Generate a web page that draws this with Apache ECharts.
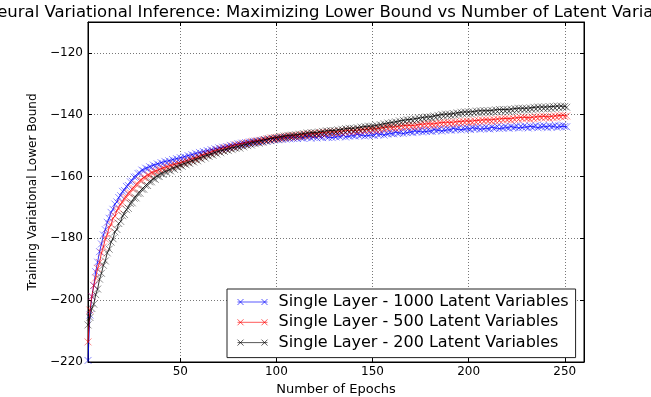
<!DOCTYPE html>
<html>
<head>
<meta charset="utf-8">
<title>Neural Variational Inference</title>
<script src="https://cdn.jsdelivr.net/npm/echarts@6/dist/echarts.min.js"></script>
<style>
    html, body { margin: 0; padding: 0; background: #fff; }
    #container { width: 651px; height: 397px; }
</style>
</head>
<body>
<div id="container"></div>
<script>
// epochs on the x axis
var epochs = [
    2, 3, 4, 5, 6, 7, 8, 9, 10, 11, 12, 13, 14, 15, 16, 17, 18, 19, 20, 21, 22, 23, 24, 25, 26,
    27, 28, 29, 30, 31, 32, 33, 34, 35, 36, 37, 38, 39, 40, 41, 42, 43, 44, 45, 46, 47, 48, 49, 50, 51,
    52, 53, 54, 55, 56, 57, 58, 59, 60, 61, 62, 63, 64, 65, 66, 67, 68, 69, 70, 71, 72, 73, 74, 75, 76,
    77, 78, 79, 80, 81, 82, 83, 84, 85, 86, 87, 88, 89, 90, 91, 92, 93, 94, 95, 96, 97, 98, 99, 100, 101,
    102, 103, 104, 105, 106, 107, 108, 109, 110, 111, 112, 113, 114, 115, 116, 117, 118, 119, 120, 121, 122, 123, 124, 125, 126,
    127, 128, 129, 130, 131, 132, 133, 134, 135, 136, 137, 138, 139, 140, 141, 142, 143, 144, 145, 146, 147, 148, 149, 150, 151,
    152, 153, 154, 155, 156, 157, 158, 159, 160, 161, 162, 163, 164, 165, 166, 167, 168, 169, 170, 171, 172, 173, 174, 175, 176,
    177, 178, 179, 180, 181, 182, 183, 184, 185, 186, 187, 188, 189, 190, 191, 192, 193, 194, 195, 196, 197, 198, 199, 200, 201,
    202, 203, 204, 205, 206, 207, 208, 209, 210, 211, 212, 213, 214, 215, 216, 217, 218, 219, 220, 221, 222, 223, 224, 225, 226,
    227, 228, 229, 230, 231, 232, 233, 234, 235, 236, 237, 238, 239, 240, 241, 242, 243, 244, 245, 246, 247, 248, 249, 250, 251
];

// Single Layer - 1000 Latent Variables
var lat1000 = [
    -219.5, -204.8,
    -198.8, -195.3, -190.8, -187.7, -184.3, -181.8, -178.9,
    -177.2, -174.8, -173.5, -171.6, -170.6, -168.9, -168.2, -166.8, -166.2, -164.8,
    -164.5, -163.2, -162.9, -161.7, -161.5, -160.2, -160.1, -159.0, -158.9, -157.9,
    -158.2, -157.3, -157.6, -156.8, -157.1, -156.3, -156.7, -155.9, -156.3, -155.5,
    -155.9, -155.1, -155.6, -154.9, -155.3, -154.5, -155.0, -154.2, -154.7, -153.9,
    -154.3, -153.6, -154.0, -153.2, -153.7, -152.9, -153.3, -152.5, -153.0, -152.2,
    -152.6, -151.9, -152.3, -151.6, -152.0, -151.3, -151.8, -151.0, -151.4, -150.7,
    -151.1, -150.5, -150.9, -150.3, -150.6, -149.9, -150.4, -149.7, -150.0, -149.4,
    -149.9, -149.2, -149.6, -149.0, -149.4, -148.8, -149.2, -148.6, -148.9, -148.4,
    -148.9, -148.3, -148.7, -148.1, -148.5, -147.9, -148.4, -147.7, -148.2, -147.6,
    -148.1, -147.5, -148.0, -147.4, -147.9, -147.3, -147.8, -147.2, -147.7, -147.3,
    -147.7, -147.1, -147.5, -147.6, -146.9, -147.4, -147.0, -147.6, -147.2, -146.9,
    -147.5, -146.8, -147.3, -147.4, -146.7, -147.2, -147.3, -146.8, -147.4, -146.9,
    -147.2, -146.6, -147.1, -146.9, -146.5, -147.2, -146.6, -146.9, -146.4, -146.8,
    -146.9, -146.3, -146.8, -146.6, -146.2, -146.9, -146.4, -146.7, -146.1, -146.6,
    -146.7, -146.1, -146.5, -146.3, -145.9, -146.6, -146.0, -146.2, -145.7, -146.1,
    -146.2, -145.6, -146.0, -145.9, -145.4, -146.1, -145.5, -145.8, -145.3, -145.6,
    -145.8, -145.2, -145.6, -145.4, -144.9, -145.6, -145.1, -145.4, -144.9, -145.3,
    -145.4, -144.8, -145.2, -145.0, -144.6, -145.3, -144.7, -145.0, -144.5, -144.9,
    -145.0, -144.4, -144.9, -144.7, -144.2, -144.9, -144.4, -144.6, -144.2, -144.6,
    -144.8, -144.2, -144.6, -144.4, -144.0, -144.7, -144.2, -144.5, -144.0, -144.5,
    -144.6, -144.0, -144.4, -144.3, -143.8, -144.5, -144.0, -144.3, -143.8, -144.2,
    -144.4, -143.8, -144.2, -144.1, -143.6, -144.3, -143.8, -144.1, -143.6, -144.0,
    -144.3, -143.7, -144.1, -143.9, -143.5, -144.2, -143.7, -143.9, -143.5, -143.9,
    -144.2, -143.6, -144.0, -143.8, -143.4, -144.1, -143.6, -143.8, -143.4, -143.8,
    -143.9
];

// Single Layer - 500 Latent Variables
var lat500 = [
    -213.5, -203.2,
    -198.8, -195.2, -192.8, -189.7, -187.8, -184.7, -182.8,
    -180.2, -178.8, -176.5, -175.5, -173.5, -172.8, -171.0, -170.5, -168.9, -168.5,
    -167.0, -166.8, -165.4, -165.3, -164.0, -163.9, -162.6, -162.6, -161.3, -161.3,
    -160.3, -160.5, -159.5, -159.7, -158.7, -159.0, -158.2, -158.5, -157.7, -158.0,
    -157.2, -157.6, -156.8, -157.2, -156.4, -156.8, -156.0, -156.5, -155.7, -156.1,
    -155.3, -155.6, -154.9, -155.3, -154.5, -154.9, -154.1, -154.5, -153.7, -153.9,
    -153.1, -153.5, -152.7, -153.0, -152.3, -152.6, -151.8, -152.2, -151.4, -151.8,
    -151.0, -151.5, -150.7, -151.1, -150.4, -150.8, -150.1, -150.5, -149.7, -150.2,
    -149.5, -149.9, -149.2, -149.6, -149.0, -149.4, -148.7, -149.1, -148.5, -148.9,
    -148.3, -148.8, -148.0, -148.4, -147.8, -148.2, -147.5, -148.0, -147.4, -147.8,
    -147.3, -147.8, -147.1, -147.5, -146.9, -147.4, -146.8, -147.3, -146.7, -147.1,
    -146.6, -147.1, -146.4, -146.9, -146.3, -146.8, -146.2, -146.6, -146.0, -146.5,
    -146.1, -146.5, -145.8, -146.3, -145.7, -146.2, -145.6, -146.0, -145.5, -146.0,
    -145.6, -146.0, -145.3, -145.8, -145.2, -145.7, -145.1, -145.5, -145.0, -145.5,
    -145.1, -145.6, -144.9, -145.3, -144.8, -145.2, -144.7, -145.1, -144.6, -145.0,
    -144.6, -145.1, -144.4, -144.9, -144.2, -144.7, -144.0, -144.5, -143.9, -144.3,
    -144.0, -144.5, -143.8, -144.2, -143.6, -144.1, -143.5, -144.0, -143.4, -143.8,
    -143.5, -144.0, -143.3, -143.7, -143.1, -143.6, -143.0, -143.5, -142.9, -143.3,
    -143.0, -143.5, -142.8, -143.2, -142.6, -143.1, -142.5, -143.0, -142.4, -142.8,
    -142.5, -143.0, -142.3, -142.8, -142.2, -142.7, -142.1, -142.5, -142.0, -142.4,
    -142.1, -142.6, -141.9, -142.4, -141.8, -142.3, -141.7, -142.1, -141.6, -142.0,
    -141.7, -142.2, -141.5, -142.0, -141.4, -141.9, -141.3, -141.7, -141.2, -141.6,
    -141.3, -141.8, -141.1, -141.6, -141.0, -141.5, -140.9, -141.3, -140.8, -141.2,
    -141.0, -141.5, -140.8, -141.3, -140.7, -141.2, -140.6, -141.0, -140.5, -140.9,
    -140.7, -141.2, -140.5, -141.0, -140.4, -140.9, -140.3, -140.7, -140.2, -140.6,
    -140.4
];

// Single Layer - 200 Latent Variables
var lat200 = [
    -208.0, -205.6,
    -202.7, -201.3, -198.2, -196.4, -193.2, -191.3, -188.7,
    -187.3, -184.7, -183.5, -181.2, -180.1, -177.9, -177.1, -175.2, -174.5, -172.7,
    -172.3, -170.7, -170.3, -168.7, -168.5, -167.0, -166.9, -165.5, -165.4, -164.1,
    -164.1, -162.9, -162.9, -161.7, -161.7, -160.7, -160.9, -159.8, -160.0, -159.0,
    -159.3, -158.4, -158.7, -157.9, -158.2, -157.3, -157.7, -156.8, -157.2, -156.3,
    -156.7, -155.8, -156.2, -155.4, -155.8, -154.9, -155.3, -154.4, -154.9, -154.0,
    -154.4, -153.5, -154.0, -153.1, -153.5, -152.7, -153.1, -152.2, -152.7, -151.8,
    -152.3, -151.5, -151.9, -151.2, -151.6, -150.8, -151.3, -150.6, -150.9, -150.3,
    -150.8, -149.9, -150.4, -149.6, -150.0, -149.3, -149.8, -148.9, -149.4, -148.7,
    -149.2, -148.4, -148.9, -148.1, -148.6, -147.8, -148.3, -147.6, -148.0, -147.4,
    -147.9, -147.1, -147.6, -146.9, -147.4, -146.7, -147.2, -146.6, -147.0, -146.5,
    -147.0, -146.3, -146.8, -146.1, -146.6, -145.9, -146.4, -145.8, -146.2, -145.8,
    -146.3, -145.6, -146.1, -145.4, -145.9, -145.2, -145.7, -145.1, -145.5, -145.1,
    -145.6, -144.9, -145.4, -144.7, -145.2, -144.5, -145.0, -144.4, -144.8, -144.4,
    -144.9, -144.2, -144.7, -144.0, -144.5, -143.8, -144.3, -143.7, -144.1, -143.7,
    -144.2, -143.4, -144.0, -143.2, -143.7, -142.9, -143.5, -142.7, -143.2, -142.5,
    -143.0, -142.3, -142.8, -142.0, -142.6, -141.8, -142.3, -141.6, -142.0, -141.5,
    -142.0, -141.3, -141.8, -141.1, -141.6, -140.9, -141.4, -140.7, -141.2, -140.7,
    -141.2, -140.4, -140.9, -140.2, -140.7, -139.9, -140.5, -139.8, -140.3, -139.8,
    -140.3, -139.6, -140.1, -139.4, -139.9, -139.2, -139.7, -139.1, -139.6, -139.1,
    -139.7, -139.0, -139.5, -138.8, -139.4, -138.7, -139.3, -138.7, -139.2, -138.7,
    -139.3, -138.6, -139.1, -138.4, -139.0, -138.3, -138.9, -138.3, -138.8, -138.3,
    -138.9, -138.2, -138.7, -138.0, -138.6, -137.9, -138.5, -137.9, -138.4, -137.9,
    -138.5, -137.8, -138.3, -137.6, -138.2, -137.5, -138.1, -137.5, -138.0, -137.5,
    -138.1, -137.4, -138.0, -137.3, -137.9, -137.2, -137.8, -137.2, -137.7, -137.3,
    -137.6
];

var seriesNames = [
    'Single Layer - 1000 Latent Variables',
    'Single Layer - 500 Latent Variables',
    'Single Layer - 200 Latent Variables'
];
var seriesColors = ['#0000ff', '#ff0000', '#000000'];

var X_MARK = 'path://M0,0L10,10M10,0L0,10';
// legend sample: a line with an x at each end
var LEGEND_MARK = 'path://M0,3L30,3M0,0L6,6M6,0L0,6M24,0L30,6M30,0L24,6';
var FONT = 'DejaVu Sans';

function minus(v) {
    return String(v).replace('-', '\u2212');
}

function makeSeries(idx, values) {
    var pts = [];
    for (var i = 0; i < epochs.length; i++) {
        pts.push([epochs[i], values[i]]);
    }
    return {
        name: seriesNames[idx],
        type: 'line',
        data: pts,
        symbol: X_MARK,
        symbolSize: 7,
        showAllSymbol: true,
        lineStyle: { color: seriesColors[idx], width: 1, opacity: 0.8 },
        itemStyle: { color: 'none', borderColor: seriesColors[idx], borderWidth: 1, opacity: 0.45 },
        emphasis: { disabled: true },
        z: 2 + idx
    };
}

var dom = document.getElementById('container');
var myChart = echarts.init(dom);

var legendData = [];
for (var k = 0; k < seriesNames.length; k++) {
    legendData.push({
        name: seriesNames[k],
        icon: LEGEND_MARK,
        itemStyle: { color: 'none', borderColor: seriesColors[k], borderWidth: 1, opacity: 0.65 }
    });
}

var option = {
    animation: false,
    backgroundColor: '#fff',
    textStyle: { fontFamily: FONT },
    graphic: [{
        type: 'text',
        x: 336,
        y: 4,
        style: {
            text: 'Neural Variational Inference: Maximizing Lower Bound vs Number of Latent Variables',
            font: '16.5px "DejaVu Sans"',
            fill: '#000',
            textAlign: 'center',
            textVerticalAlign: 'top'
        }
    }],
    grid: {
        left: 88, right: 67, top: 22, bottom: 35,
        outerBoundsMode: 'none',
        containLabel: false,
        show: true, borderColor: '#000', borderWidth: 1
    },
    legend: {
        orient: 'vertical',
        left: 227,
        top: 289,
        padding: [5, 7, 7, 8],
        itemWidth: 30,
        itemHeight: 6,
        itemGap: 4.3,
        backgroundColor: '#fff',
        borderColor: '#222',
        borderWidth: 1,
        borderRadius: 0,
        textStyle: { fontFamily: FONT, fontSize: 16, color: '#000', lineHeight: 16, padding: [0, 0, 0, 6] },
        data: legendData
    },
    xAxis: [{
        type: 'value',
        min: 2,
        max: 260,
        position: 'bottom',
        name: 'Number of Epochs',
        nameLocation: 'middle',
        nameGap: 17,
        nameTextStyle: { fontFamily: FONT, fontSize: 13, color: '#000' },
        axisLine: { show: true, lineStyle: { color: '#000' } },
        axisTick: { inside: true, length: 4, lineStyle: { color: '#000' } },
        axisLabel: { fontFamily: FONT, fontSize: 12, color: '#000', margin: 4, showMinLabel: false, showMaxLabel: false },
        splitLine: { show: true, lineStyle: { color: '#777', type: [1, 2], width: 1 } }
    }, {
        type: 'value',
        min: 2,
        max: 260,
        position: 'top',
        axisLine: { show: true, lineStyle: { color: '#000' } },
        axisTick: { inside: true, length: 4, lineStyle: { color: '#000' } },
        axisLabel: { show: false },
        splitLine: { show: false }
    }],
    yAxis: [{
        type: 'value',
        min: -220,
        max: -110,
        interval: 20,
        position: 'left',
        name: 'Training Variational Lower Bound',
        nameLocation: 'middle',
        nameGap: 48,
        nameTextStyle: { fontFamily: FONT, fontSize: 12, color: '#000' },
        axisLine: { show: true, lineStyle: { color: '#000' } },
        axisTick: { inside: true, length: 4, lineStyle: { color: '#000' } },
        axisLabel: { fontFamily: FONT, fontSize: 12, color: '#000', margin: 5, showMaxLabel: false, formatter: minus },
        splitLine: { show: true, lineStyle: { color: '#777', type: [1, 2], width: 1 } }
    }, {
        type: 'value',
        min: -220,
        max: -110,
        interval: 20,
        position: 'right',
        axisLine: { show: true, lineStyle: { color: '#000' } },
        axisTick: { inside: true, length: 4, lineStyle: { color: '#000' } },
        axisLabel: { show: false },
        splitLine: { show: false }
    }],
    series: [
        makeSeries(0, lat1000),
        makeSeries(1, lat500),
        makeSeries(2, lat200)
    ]
};

myChart.setOption(option);
</script>
</body>
</html>
